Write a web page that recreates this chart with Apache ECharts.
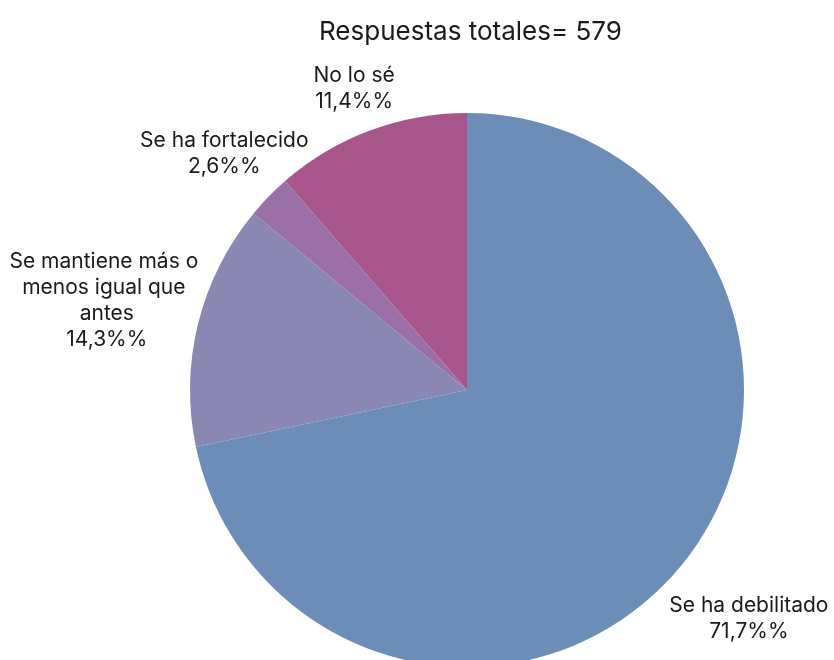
<!DOCTYPE html>
<html><head><meta charset="utf-8">
<script src="https://cdn.jsdelivr.net/npm/echarts@6/dist/echarts.min.js"></script>
<style>html,body{margin:0;padding:0;background:#fff}#c{width:834px;height:660px}</style>
</head><body><div id="c"></div>
<script>
const categories = ["Se ha debilitado", "Se mantiene más o menos igual que antes", "Se ha fortalecido", "No lo sé"];
const values = [71.7, 14.3, 2.6, 11.4];
const colors = ["#6b8db8", "#8a87b3", "#9b70a6", "#a8558b"];
const titleText = "Respuestas totales= 579";
// style: radial distance of each label centre from the pie centre
const labelRadius = [363, 371, 339, 322];

const CX = 467, CY = 390, R = 277;
const total = values.reduce((a, b) => a + b, 0);
const mids = [];
let acc = 0;
values.forEach(v => { mids.push((acc + v / 2) / total * 2 * Math.PI); acc += v; });

const chart = echarts.init(document.getElementById('c'));
chart.setOption({
  animation: false,
  title: { text: titleText, left: 314, top: 14,
    textStyle: { fontFamily: 'Inter', fontWeight: 'normal', fontSize: 26, color: '#1a1a1a' } },
  series: [{
    type: 'pie',
    center: [CX, CY],
    radius: R,
    startAngle: 90,
    clockwise: true,
    label: {
      show: true, position: 'outside', fontFamily: 'Inter', fontSize: 21, color: '#1a1a1a',
      lineHeight: 26, width: 215, overflow: 'break',
      formatter: p => p.name + '\n' + String(p.value).replace('.', ',') + '%%'
    },
    labelLine: { show: false },
    labelLayout: p => {
      const a = mids[p.dataIndex], d = labelRadius[p.dataIndex];
      return { x: CX + d * Math.sin(a), y: CY - d * Math.cos(a), align: 'center', verticalAlign: 'middle' };
    },
    itemStyle: { borderWidth: 0 },
    data: categories.map((c, i) => ({ name: c, value: values[i], itemStyle: { color: colors[i] } }))
  }]
});
</script></body></html>
